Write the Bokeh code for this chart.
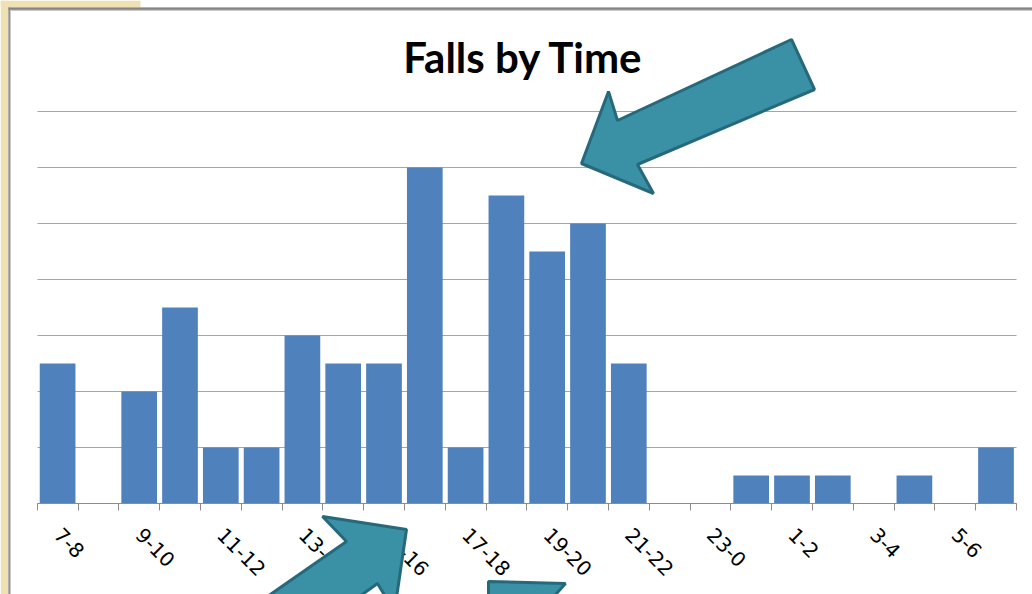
from bokeh.plotting import figure
from bokeh.models import FixedTicker, PolyAnnotation, Range1d, LinearAxis, Grid, Label
from bokeh.embed import file_html
from bokeh.resources import INLINE

# ---- data ----
categories = ["7-8", "8-9", "9-10", "10-11", "11-12", "12-13", "13-14", "14-15",
              "15-16", "16-17", "17-18", "18-19", "19-20", "20-21", "21-22", "22-23",
              "23-0", "0-1", "1-2", "2-3", "3-4", "4-5", "5-6", "6-7"]
falls = [5, 0, 4, 7, 2, 2, 6, 5, 5, 12, 2, 11, 9, 10, 5, 0, 0, 1, 1, 1, 0, 1, 0, 2]
grid_values = [0, 2, 4, 6, 8, 10, 12, 14]
title_text = "Falls by Time"

# ---- layout (page pixels) ----
W, H = 1032, 594
FRAME_LEFT_PX = 36.7     # left edge of the category axis
CAT_PX = 40.8            # width of one category
BASE_PX = 503            # pixel row of value 0
UNIT_PX = 28             # pixels per fall


def dx(px):
    return -0.5 + (px - FRAME_LEFT_PX) / CAT_PX


def dy(py):
    return (BASE_PX - py) / UNIT_PX


n = len(categories)
xpos = list(range(n))

p = figure(width=W, height=H, output_backend="svg", toolbar_location=None,
           x_axis_type=None, y_axis_type=None,
           x_range=Range1d(dx(0), dx(W)), y_range=Range1d(dy(H), dy(0)),
           min_border=0, background_fill_color="white", border_fill_color="white")
p.outline_line_color = None

# slide background pieces (beige margin + grey chart frame)
p.quad(left=[dx(0), dx(0)], right=[dx(8), dx(140)], bottom=[dy(H), dy(7)], top=[dy(0), dy(0)],
       fill_color="#EFE1B4", line_color=None)
p.quad(left=[dx(8), dx(8)], right=[dx(W), dx(10.5)], bottom=[dy(10.5), dy(H)], top=[dy(7), dy(7)],
       fill_color="#C9C9C9", line_color=None)
p.quad(left=[dx(8), dx(8)], right=[dx(W), dx(9.3)], bottom=[dy(9.3), dy(H)], top=[dy(7), dy(7)],
       fill_color="#848484", line_color=None)

# horizontal grid lines limited to the category span
grid = Grid(dimension=1, ticker=FixedTicker(ticks=grid_values),
            grid_line_color="#A6A6A6", grid_line_width=1)
if "cross_bounds" in Grid.properties():
    grid.cross_bounds = (-0.5, n - 0.5)
    p.add_layout(grid, "center")
else:
    p.segment(x0=[-0.5] * len(grid_values), x1=[n - 0.5] * len(grid_values),
              y0=grid_values, y1=grid_values, line_color="#A6A6A6", line_width=1)

# bars
p.vbar(x=xpos, top=falls, width=0.875, fill_color="#4F81BD", line_color=None)

# category axis: labels on every other category, ticks at the boundaries
label_ticks = xpos[::2]
ax = LinearAxis(fixed_location=0, bounds=(-0.5, n - 0.5),
                ticker=FixedTicker(ticks=label_ticks,
                                   minor_ticks=[i - 0.5 for i in range(n + 1)]))
ax.major_label_overrides = {i: categories[i] for i in label_ticks}
ax.major_label_orientation = -0.785398
ax.major_label_text_font = "DejaVu Sans"
ax.major_label_text_font_size = "20px"
ax.major_label_text_color = "black"
ax.major_label_standoff = 21
ax.major_tick_line_color = None
ax.major_tick_in = 0
ax.major_tick_out = 0
ax.minor_tick_line_color = "#8C8C8C"
ax.minor_tick_in = 0
ax.minor_tick_out = 7
ax.axis_line_color = "#8C8C8C"
ax.axis_line_width = 1
p.add_layout(ax, "below")

# title
p.add_layout(Label(x=dx(523), y=dy(56), text=title_text, text_align="center",
                   text_baseline="alphabetic", text_font="Lato", text_font_style="bold",
                   text_font_size="42px", text_color="black"))

# ---- decorative call-out arrows from the slide (page pixels) ----
arrow_shapes = [
    [(581, 163), (608, 91), (617, 120), (791, 39), (814, 89), (637, 164), (653, 193)],
    [(406, 529), (394, 611), (377, 583), (270, 660), (231, 621), (346, 541), (322, 516)],
    [(488, 581), (565, 583), (548, 602), (488, 602)],
]
for shape in arrow_shapes:
    p.add_layout(PolyAnnotation(xs=[dx(a) for a, _ in shape], ys=[dy(b) for _, b in shape],
                                fill_color="#3A91A6", fill_alpha=1.0,
                                line_color="#25697B", line_alpha=1.0, line_width=3,
                                level="overlay"))

open("out.html", "w").write(file_html(p, INLINE))
